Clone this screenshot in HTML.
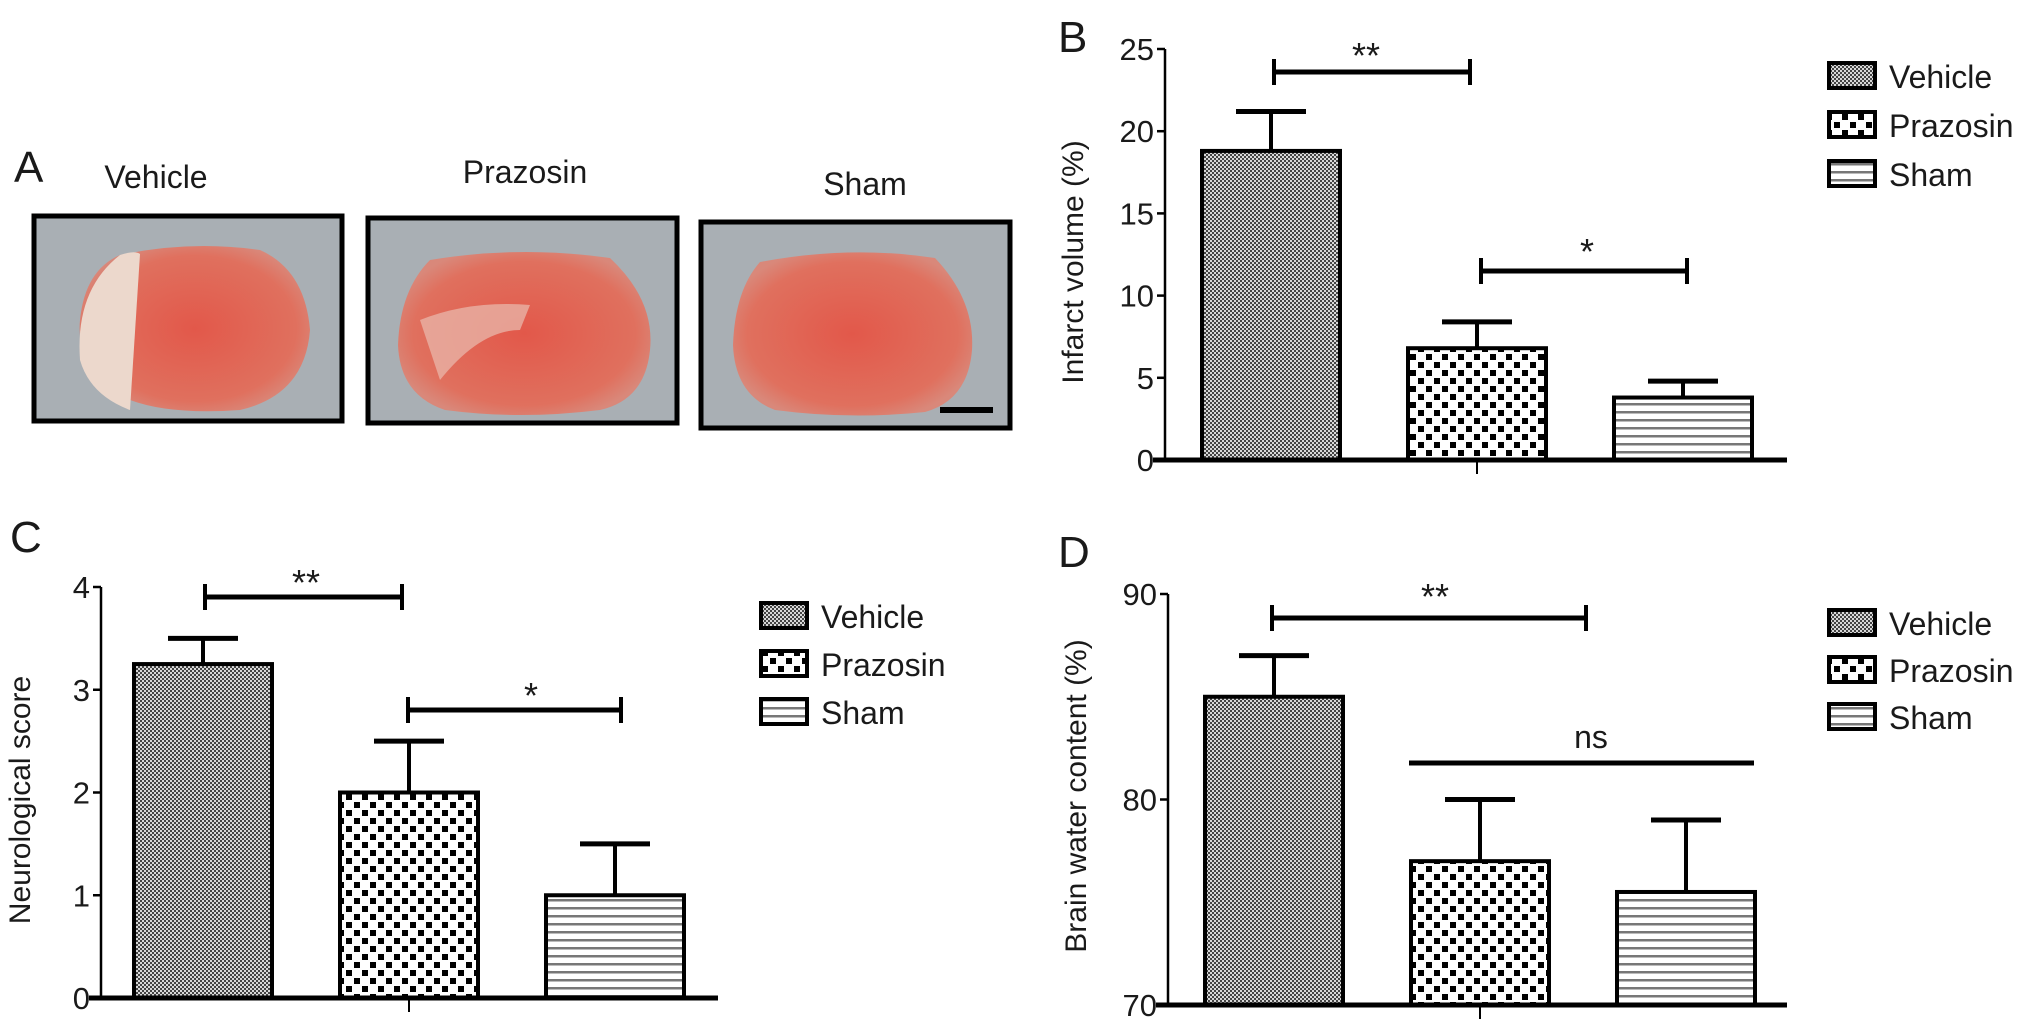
<!DOCTYPE html>
<html><head><meta charset="utf-8">
<style>
html,body{margin:0;padding:0;background:#fff;}
body{width:2032px;height:1032px;overflow:hidden;position:relative;font-family:"Liberation Sans",sans-serif;}
svg{position:absolute;left:0;top:0;}
text{font-family:"Liberation Sans",sans-serif;fill:#1a1a1a;}
</style></head>
<body>
<svg id="fig" width="2032" height="1032" viewBox="0 0 2032 1032" xmlns="http://www.w3.org/2000/svg">
<defs>
<pattern id="pVeh" width="4" height="4" patternUnits="userSpaceOnUse">
<rect width="4" height="4" fill="#d8d8d8"/><rect width="2" height="2" fill="#444"/><rect x="2" y="2" width="2" height="2" fill="#444"/>
</pattern>
<pattern id="pPra" width="16" height="16" patternUnits="userSpaceOnUse">
<rect width="16" height="16" fill="#fff"/><rect x="2" y="2" width="6" height="6" fill="#000"/><rect x="10" y="10" width="6" height="6" fill="#000"/>
</pattern>
<pattern id="pSham" width="8" height="8" patternUnits="userSpaceOnUse">
<rect width="8" height="8" fill="#fff"/><rect y="3" width="8" height="2.5" fill="#777"/>
</pattern>
<radialGradient id="tissue" cx="50%" cy="50%" r="55%">
<stop offset="0" stop-color="#e2584a"/><stop offset="0.8" stop-color="#e0705e"/><stop offset="1" stop-color="#d9887a"/>
</radialGradient>
</defs>

<!-- Panel A -->
<g>
<text x="14" y="182" font-size="44">A</text>
<text x="156" y="188" font-size="32" text-anchor="middle">Vehicle</text>
<text x="525" y="183" font-size="32" text-anchor="middle">Prazosin</text>
<text x="865" y="195" font-size="32" text-anchor="middle">Sham</text>

<g>
<rect x="34" y="216" width="308" height="205" fill="#a9afb4" stroke="#000" stroke-width="5"/>
<path d="M120 255 Q190 240 260 250 Q305 270 310 330 Q305 395 240 410 Q170 415 130 400 Q75 370 80 320 Q85 270 120 255Z" fill="url(#tissue)"/>
<path d="M120 255 Q135 250 140 254 L130 410 Q90 395 80 360 Q75 290 120 255Z" fill="#ecd8cc"/>
</g>
<g>
<rect x="368" y="218" width="309" height="205" fill="#a9afb4" stroke="#000" stroke-width="5"/>
<path d="M430 260 Q520 245 610 258 Q655 300 650 350 Q645 400 600 410 Q520 420 445 410 Q400 395 398 345 Q400 290 430 260Z" fill="url(#tissue)"/>
<path d="M420 320 Q470 300 530 305 L520 330 Q480 330 440 380 Z" fill="#e9b2a5" opacity="0.8"/>
</g>
<g>
<rect x="701" y="222" width="309" height="206" fill="#a9afb4" stroke="#000" stroke-width="5"/>
<path d="M760 262 Q850 245 935 258 Q975 300 972 350 Q968 400 925 412 Q850 420 775 410 Q735 395 733 345 Q735 290 760 262Z" fill="url(#tissue)"/>
<rect x="940" y="407" width="53" height="6" fill="#000"/>
</g>
</g>

<g id="panelB"></g>
<g id="panelC"></g>
<g id="panelD"></g>
</svg>

<script>
// ---- data ----
const groups = ["Vehicle", "Prazosin", "Sham"];
const infarctMeans = [18.8, 6.8, 3.8];
const infarctErrTop = [21.2, 8.4, 4.8];
const infarctTicks = [0, 5, 10, 15, 20, 25];
const neuroMeans = [3.25, 2.0, 1.0];
const neuroErrTop = [3.5, 2.5, 1.5];
const neuroTicks = [0, 1, 2, 3, 4];
const waterMeans = [85, 77, 75.5];
const waterErrTop = [87, 80, 79];
const waterTicks = [70, 80, 90];

const NS = "http://www.w3.org/2000/svg";
const fills = ["url(#pVeh)", "url(#pPra)", "url(#pSham)"];
function mk(parent, tag, attrs, txt) {
  const e = document.createElementNS(NS, tag);
  for (const k in attrs) e.setAttribute(k, attrs[k]);
  if (txt !== undefined) e.textContent = txt;
  parent.appendChild(e);
  return e;
}

function drawChart(g, cfg) {
  const ymin = cfg.ticks[0], ymax = cfg.ticks[cfg.ticks.length - 1];
  const yS = v => cfg.y0 + (v - ymin) / (ymax - ymin) * (cfg.yTop - cfg.y0);
  const barX = i => cfg.bar0 + i * cfg.barStep;
  const lbl = mk(g, "text", {x: cfg.letter[0], y: cfg.letter[1], "font-size": 44});
  lbl.textContent = cfg.letterText;
  
  

  cfg.means.forEach((m, i) => {
    const x = barX(i);
    const eb = mk(g, "g", {});
    
    
    mk(eb, "line", {x1: x + cfg.bw / 2, x2: x + cfg.bw / 2, y1: yS(m), y2: yS(cfg.errs[i]), stroke: "#000", "stroke-width": 4});
    mk(eb, "line", {x1: x + cfg.bw / 2 - 35, x2: x + cfg.bw / 2 + 35, y1: yS(cfg.errs[i]), y2: yS(cfg.errs[i]), stroke: "#000", "stroke-width": 5});
    const r = mk(g, "rect", {x: x, y: yS(m), width: cfg.bw, height: yS(ymin) - yS(m), fill: fills[i], stroke: "#000", "stroke-width": 4});
    
    
  });

  const ax = mk(g, "g", {});
  
  
  mk(ax, "line", {x1: cfg.ax, x2: cfg.ax, y1: yS(ymax), y2: yS(ymin), stroke: "#000", "stroke-width": 2.5});
  cfg.ticks.forEach(t => {
    mk(ax, "line", {x1: cfg.ax - 8, x2: cfg.ax, y1: yS(t), y2: yS(t), stroke: "#000", "stroke-width": 2.5});
    const tl = mk(ax, "text", {x: cfg.ax - 11, y: yS(t) + 11, "font-size": 31, "text-anchor": "end"}, String(t));
    
    
  });
  const xa = mk(g, "g", {});
  
  
  mk(xa, "line", {x1: cfg.ax - 12, x2: cfg.axEnd, y1: yS(ymin), y2: yS(ymin), stroke: "#000", "stroke-width": 5});
  const cx = barX(1) + cfg.bw / 2;
  mk(xa, "line", {x1: cx, x2: cx, y1: yS(ymin), y2: yS(ymin) + 14, stroke: "#000", "stroke-width": 2});

  const yt = mk(g, "text", {x: 0, y: 0, "font-size": 30, "text-anchor": "middle",
    transform: "translate(" + cfg.ytitle[0] + "," + cfg.ytitle[1] + ") rotate(-90)"}, cfg.ytitleText);
  
  

  cfg.sig.forEach(s => {
    const sg = mk(g, "g", {});
    
    
    mk(sg, "line", {x1: s.x1, x2: s.x2, y1: s.y, y2: s.y, stroke: "#000", "stroke-width": 5});
    if (s.caps) {
      mk(sg, "line", {x1: s.x1, x2: s.x1, y1: s.y - 13, y2: s.y + 13, stroke: "#000", "stroke-width": 4});
      mk(sg, "line", {x1: s.x2, x2: s.x2, y1: s.y - 13, y2: s.y + 13, stroke: "#000", "stroke-width": 4});
    }
    mk(sg, "text", {x: s.tx, y: s.ty, "font-size": s.fs, "text-anchor": "middle"}, s.label);
  });

  const lg = mk(g, "g", {});
  
  
  groups.forEach((name, i) => {
    const y = cfg.leg[1] + i * cfg.legStep;
    const e = mk(lg, "g", {});
    
    
    mk(e, "rect", {x: cfg.leg[0], y: y, width: 46, height: 25, fill: fills[i], stroke: "#000", "stroke-width": 4});
    mk(e, "text", {x: cfg.leg[0] + 60, y: y + 25, "font-size": 32}, name);
  });
}

drawChart(document.getElementById("panelB"), {
  letterText: "B", letter: [1058, 52], means: infarctMeans, errs: infarctErrTop, ticks: infarctTicks,
  y0: 460, yTop: 49, ax: 1165, axEnd: 1787, bar0: 1202, barStep: 206, bw: 138,
  ytitle: [1083, 262], ytitleText: "Infarct volume (%)",
  sig: [{x1: 1274, x2: 1470, y: 72, caps: true, label: "**", tx: 1366, ty: 68, fs: 36},
        {x1: 1481, x2: 1687, y: 271, caps: true, label: "*", tx: 1587, ty: 264, fs: 36}],
  leg: [1829, 63], legStep: 49
});
drawChart(document.getElementById("panelC"), {
  letterText: "C", letter: [10, 552], means: neuroMeans, errs: neuroErrTop, ticks: neuroTicks,
  y0: 998, yTop: 587, ax: 101, axEnd: 718, bar0: 134, barStep: 206, bw: 138,
  ytitle: [30, 800], ytitleText: "Neurological score",
  sig: [{x1: 205, x2: 402, y: 597, caps: true, label: "**", tx: 306, ty: 595, fs: 36},
        {x1: 408, x2: 621, y: 710, caps: true, label: "*", tx: 531, ty: 708, fs: 36}],
  leg: [761, 603], legStep: 48
});
drawChart(document.getElementById("panelD"), {
  letterText: "D", letter: [1058, 567], means: waterMeans, errs: waterErrTop, ticks: waterTicks,
  y0: 1005, yTop: 594, ax: 1168, axEnd: 1787, bar0: 1205, barStep: 206, bw: 138,
  ytitle: [1086, 796], ytitleText: "Brain water content (%)",
  sig: [{x1: 1272, x2: 1586, y: 618, caps: true, label: "**", tx: 1435, ty: 609, fs: 36},
        {x1: 1409, x2: 1754, y: 763, caps: false, label: "ns", tx: 1591, ty: 748, fs: 32}],
  leg: [1829, 610], legStep: 47
});
</script>
</body></html>
